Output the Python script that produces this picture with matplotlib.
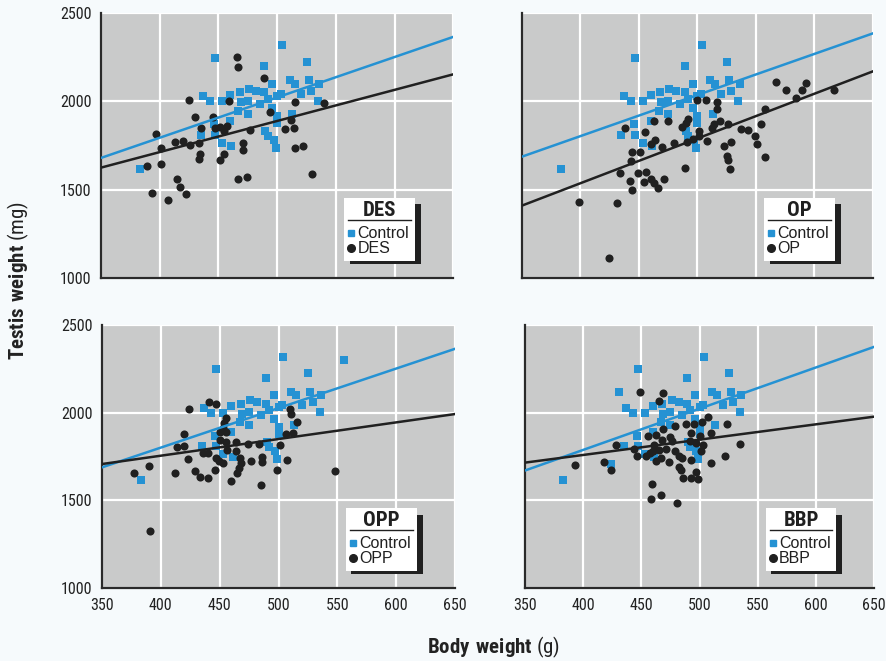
import numpy as np
import matplotlib.pyplot as plt
from matplotlib import font_manager
from matplotlib.patches import Rectangle

# pick a condensed face that has a real bold
fl = font_manager.fontManager.ttflist
narrow = 'DejaVu Sans'
for cand in ['Roboto Condensed', 'PT Sans Narrow', 'Archivo Narrow', 'Fira Sans Condensed',
             'IBM Plex Sans Condensed', 'Barlow Semi Condensed', 'Asap Condensed']:
    ws = {str(f.weight) for f in fl if f.name == cand}
    if ws & {'700', 'bold'} and ws & {'400', 'normal', 'regular'}:
        narrow = cand
        break
names = {f.name for f in fl}
wide = 'Liberation Sans' if 'Liberation Sans' in names else 'DejaVu Sans'
plt.rcParams['font.family'] = [narrow, 'DejaVu Sans']
plt.rcParams['mathtext.fontset'] = 'custom'
plt.rcParams['mathtext.rm'] = narrow
plt.rcParams['mathtext.bf'] = narrow + ':bold'

# control group (body weight g, testis weight mg)
control_x = [383, 447, 504, 525, 489, 437, 443, 453, 460, 468, 476, 482, 489, 496, 500,
             503, 511, 515, 527, 529, 536, 520, 535, 469, 467, 475, 475, 485, 492, 496,
             500, 500, 513, 460, 446, 435, 447, 453, 461, 490, 492, 497, 499]
control_y = [1616, 2246, 2319, 2225, 2200, 2029, 2000, 2000, 2036, 2052, 2071, 2061, 2052, 2100, 2033,
             2042, 2119, 2100, 2119, 2061, 2100, 2042, 2004, 1994, 1946, 2004, 1927, 1985, 2013, 1965,
             1917, 1879, 1927, 1889, 1869, 1812, 1812, 1764, 1745, 1831, 1802, 1783, 1735]
opp_ctrl_extra_x = [556]
opp_ctrl_extra_y = [2300]
bbp_ctrl_extra_x = [431, 424]
bbp_ctrl_extra_y = [2120, 1708]

des_x = [466, 467, 489, 425, 459, 515, 540, 494, 430, 445, 512, 435, 447, 451, 457,
         455, 477, 507, 514, 397, 413, 420, 426, 433, 401, 471, 471, 434, 433, 455,
         451, 515, 522, 389, 401, 415, 417, 422, 393, 407, 467, 474, 530]
des_y = [2253, 2196, 2132, 2010, 2000, 1994, 1988, 1942, 1912, 1914, 1892, 1850, 1850, 1854, 1860,
         1831, 1839, 1844, 1850, 1816, 1770, 1773, 1754, 1762, 1735, 1762, 1722, 1700, 1674, 1700,
         1668, 1735, 1747, 1635, 1647, 1562, 1518, 1476, 1480, 1441, 1562, 1572, 1587]

op_x = [567, 576, 593, 589, 584, 617, 500, 507, 517, 517, 558, 463, 475, 492, 490,
        487, 501, 501, 512, 514, 519, 526, 537, 543, 554, 549, 551, 558, 438, 455,
        464, 460, 470, 480, 491, 496, 508, 523, 529, 525, 526, 528, 444, 451, 443,
        489, 434, 449, 456, 442, 444, 454, 460, 463, 466, 471, 399, 431, 424]
op_y = [2112, 2062, 2102, 2067, 2019, 2062, 2006, 2006, 1996, 1958, 1958, 1890, 1888, 1900, 1875,
        1856, 1831, 1804, 1850, 1869, 1888, 1869, 1846, 1837, 1869, 1804, 1760, 1683, 1850, 1827,
        1779, 1760, 1740, 1765, 1769, 1785, 1773, 1750, 1769, 1688, 1669, 1619, 1712, 1712, 1663,
        1625, 1596, 1592, 1600, 1548, 1496, 1544, 1563, 1538, 1510, 1558, 1433, 1423, 1115]

opp_x = [441, 447, 424, 510, 511, 516, 455, 454, 453, 450, 455, 420, 506, 512, 450,
         455, 464, 474, 483, 501, 414, 420, 436, 440, 447, 449, 453, 456, 464, 467,
         468, 466, 465, 477, 486, 486, 423, 507, 499, 390, 377, 412, 429, 433, 440,
         446, 460, 485, 548, 391]
opp_y = [2063, 2052, 2019, 2023, 1990, 1948, 1971, 1943, 1914, 1889, 1889, 1880, 1876, 1882, 1844,
         1832, 1832, 1824, 1819, 1813, 1805, 1809, 1771, 1771, 1742, 1723, 1714, 1786, 1781, 1742,
         1714, 1685, 1657, 1723, 1748, 1718, 1733, 1729, 1672, 1695, 1657, 1653, 1666, 1634, 1628,
         1672, 1609, 1586, 1666, 1327]

bbp_x = [449, 469, 465, 507, 502, 495, 488, 479, 524, 469, 510, 493, 500, 456, 463,
         468, 475, 476, 492, 497, 535, 428, 461, 460, 465, 471, 444, 446, 479, 482,
         485, 501, 503, 522, 454, 457, 467, 474, 463, 493, 418, 393, 424, 510, 482,
         484, 486, 493, 499, 497, 459, 458, 467, 481]
bbp_y = [2119, 2110, 2067, 1977, 1948, 1933, 1933, 1923, 1937, 1908, 1885, 1885, 1865, 1869, 1875,
         1846, 1860, 1837, 1837, 1827, 1821, 1817, 1817, 1779, 1788, 1792, 1792, 1750, 1779, 1750,
         1744, 1779, 1817, 1754, 1754, 1769, 1740, 1721, 1725, 1731, 1721, 1702, 1673, 1715, 1692,
         1673, 1629, 1625, 1619, 1663, 1592, 1510, 1529, 1485]

# regression lines, read at the two ends of the x axis
fit_x = [350, 650]
ctrl_fit = {'DES': [1680, 2365], 'OP': [1687, 2385], 'OPP': [1688, 2364], 'BBP': [1670, 2375]}
treat_fit = {'DES': [1625, 2153], 'OP': [1410, 2170], 'OPP': [1707, 1992], 'BBP': [1715, 1977]}

xticks = [350, 400, 450, 500, 550, 600, 650]
yticks = [1000, 1500, 2000, 2500]

blue = '#2592d3'
dark = '#202020'

fig = plt.figure(figsize=(8.87, 6.61), dpi=100)
fig.patch.set_facecolor('#f6fafc')

panels = [
    ('DES', des_x, des_y, [], [], [0.114, 0.5794, 0.397, 0.4009]),
    ('OP', op_x, op_y, [], [], [0.5885, 0.5794, 0.3957, 0.4009]),
    ('OPP', opp_x, opp_y, opp_ctrl_extra_x, opp_ctrl_extra_y, [0.115, 0.1104, 0.398, 0.398]),
    ('BBP', bbp_x, bbp_y, bbp_ctrl_extra_x, bbp_ctrl_extra_y, [0.5919, 0.1104, 0.3935, 0.398]),
]


def draw_key(ax, name):
    x0, x1, y0, y1 = 0.69, 0.892, 0.065, 0.303
    w = x1 - x0
    h = y1 - y0
    # black drop shadow
    ax.add_patch(Rectangle((x0 + 0.016, y0 - 0.013), w, h - 0.012, transform=ax.transAxes,
                           facecolor=dark, edgecolor='none', clip_on=False, zorder=10))
    ax.add_patch(Rectangle((x0, y0), w, h, transform=ax.transAxes,
                           facecolor='white', edgecolor='none', clip_on=False, zorder=11))
    ax.text(x0 + w / 2, y1 - 0.2 * h, name, transform=ax.transAxes, ha='center', va='center',
            fontsize=15, fontweight='bold', color=dark, zorder=12)
    ax.plot([x0 + 0.06 * w, x1 - 0.06 * w], [y1 - 0.35 * h] * 2, transform=ax.transAxes,
            color=dark, lw=1.0, zorder=12, clip_on=False)
    ax.plot([x0 + 0.1 * w], [y1 - 0.56 * h], 's', ms=5, color=blue, transform=ax.transAxes,
            zorder=12, clip_on=False)
    ax.text(x0 + 0.19 * w, y1 - 0.56 * h, 'Control', transform=ax.transAxes, ha='left',
            va='center', fontsize=11.5, family=wide, color=dark, zorder=12)
    ax.plot([x0 + 0.1 * w], [y1 - 0.8 * h], 'o', ms=5.5, color=dark, transform=ax.transAxes,
            zorder=12, clip_on=False)
    ax.text(x0 + 0.19 * w, y1 - 0.8 * h, name, transform=ax.transAxes, ha='left',
            va='center', fontsize=11.5, family=wide, color=dark, zorder=12)


for i, (name, tx, ty, ex, ey, pos) in enumerate(panels):
    ax = fig.add_axes(pos)
    ax.set_facecolor('#c9caca')
    ax.scatter(control_x + ex, control_y + ey, marker='s', s=30, color=blue, linewidths=0, zorder=3)
    ax.scatter(tx, ty, marker='o', s=34, color=dark, linewidths=0, zorder=4)
    ax.plot(fit_x, ctrl_fit[name], color=blue, lw=1.8, zorder=5)
    ax.plot(fit_x, treat_fit[name], color=dark, lw=1.8, zorder=5)

    ax.set_xlim(350, 650)
    ax.set_ylim(1000, 2500)
    ax.set_xticks(xticks)
    ax.set_yticks(yticks)
    ax.grid(True, color='white', lw=1.6)
    ax.set_axisbelow(True)
    for s in ['top', 'right']:
        ax.spines[s].set_visible(False)
    for s in ['left', 'bottom']:
        ax.spines[s].set_color('#2a2a2a')
        ax.spines[s].set_linewidth(1.6)
    ax.tick_params(length=0, pad=7, labelsize=11.5, labelcolor='#222222')
    if i < 2:
        ax.tick_params(labelbottom=False)
    if i % 2 == 1:
        ax.tick_params(labelleft=False)
    draw_key(ax, name)

fig.text(0.021, 0.576, r'$\bf{Testis\ weight}$ (mg)', rotation=90, ha='center', va='center',
         fontsize=15, color='#222222')
fig.text(0.556, 0.02, r'$\bf{Body\ weight}$ (g)', ha='center', va='center',
         fontsize=15, color='#222222')

plt.savefig('out.png', dpi=100, facecolor=fig.get_facecolor())
plt.close()
